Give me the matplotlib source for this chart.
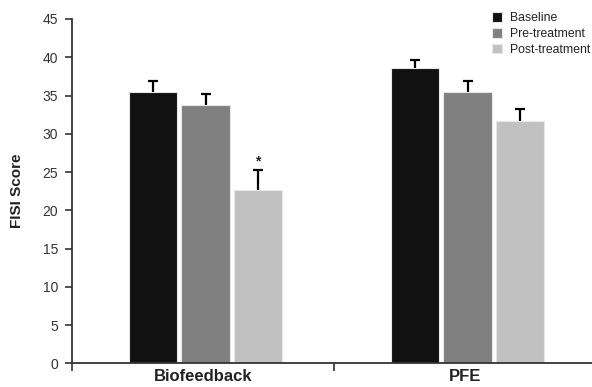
import numpy as np
import matplotlib
matplotlib.use("Agg")
import matplotlib.pyplot as plt

plt.rcParams['font.family'] = ['Liberation Sans', 'DejaVu Sans']

groups = ['Biofeedback', 'PFE']
phases = ['Baseline', 'Pre-treatment', 'Post-treatment']
colors = ['#111111', '#808080', '#c1c1c1']

# mean FISI score per phase, one list per group
means = {
    'Biofeedback': [35.5, 33.8, 22.7],
    'PFE': [38.6, 35.5, 31.7],
}
# upper error (SE) per phase
errs = {
    'Biofeedback': [1.4, 1.4, 2.5],
    'PFE': [1.0, 1.4, 1.6],
}
# significance marks: (group, phase index)
stars = [('Biofeedback', 2)]

fig = plt.figure(figsize=(5.92, 3.87), dpi=100)
ax = fig.add_axes([72 / 592, 1 - 363.3 / 387, 520 / 592, (363.3 - 19) / 387])

width = 0.185
spacing = 0.2
shift = 0.01
xg = np.arange(len(groups))

for j, ph in enumerate(phases):
    xs = xg + (j - 1) * spacing + shift
    vals = [means[g][j] for g in groups]
    ers = [errs[g][j] for g in groups]
    ax.bar(xs, vals, width=width, color=colors[j], edgecolor='#e6e6e6',
           linewidth=0.8, label=ph, zorder=2)
    tops = np.array(vals) + np.array(ers)
    ax.vlines(xs, vals, tops, color='black', lw=1.6, zorder=3)
    ax.hlines(tops, xs - 0.019, xs + 0.019, color='black', lw=1.6, zorder=3)

for g, j in stars:
    i = groups.index(g)
    x = i + (j - 1) * spacing + shift
    ax.text(x, means[g][j] + errs[g][j] + 0.2, '*', ha='center', va='bottom',
            fontsize=10, fontweight='bold', color='#222222')

ax.set_xlim(-0.5, 1.485)
ax.set_ylim(0, 45)
ax.set_yticks(np.arange(0, 46, 5))
ax.set_xticks([-0.5, 0.5])
ax.set_xticklabels([])
ax.set_xticks(xg, minor=True)
ax.set_xticklabels(groups, minor=True, fontsize=12, fontweight='bold',
                   color='#222222')
ax.tick_params(axis='x', which='minor', length=0, pad=4)
ax.tick_params(axis='x', which='major', direction='out', length=6,
               width=1.2, color='#333333')
ax.tick_params(axis='y', direction='out', length=5, width=1.2,
               color='#333333', labelsize=10, labelcolor='#333333', pad=5)

for s in ['top', 'right']:
    ax.spines[s].set_visible(False)
for s in ['left', 'bottom']:
    ax.spines[s].set_color('#333333')
    ax.spines[s].set_linewidth(1.3)

ax.set_ylabel('FISI Score', fontsize=11, fontweight='bold', color='#222222',
              labelpad=13)

leg = ax.legend(loc='upper left', bbox_to_anchor=(492 / 592, 1 - 12 / 387),
                bbox_transform=fig.transFigure, frameon=False, fontsize=8.8,
                handlelength=0.85, handleheight=0.85, handletextpad=0.65,
                labelspacing=0.3, borderpad=0, borderaxespad=0)
for t in leg.get_texts():
    t.set_color('#222222')

fig.savefig('out.png', dpi=100)
